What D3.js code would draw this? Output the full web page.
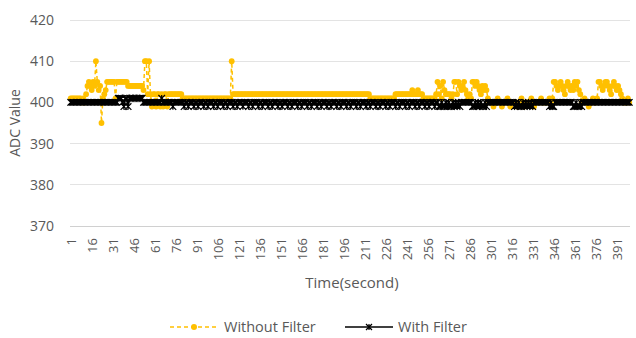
<!DOCTYPE html>
<html>
<head>
<meta charset="utf-8">
<script src="https://cdn.jsdelivr.net/npm/d3@7"></script>
<style>
  body { margin: 0; background: #fff; }
  svg { display: block; }
  text { font-family: "Open Sans", "Liberation Sans", sans-serif; fill: #595959; }
</style>
</head>
<body>
<svg id="chart" width="636" height="338"></svg>
<script>
// Sample index (seconds) for the category axis
const seconds = d3.range(1, 401);

// Raw ADC readings
const withoutFilter = [
  401,401,401,401,401,401,401,401,400,401,400,402,404,405,404,403,405,404,410,405,
  403,404,395,401,402,403,405,405,405,405,405,405,401,405,405,405,405,405,405,405,
  405,404,404,404,404,404,404,404,404,404,404,404,403,410,410,402,410,402,399,402,
  402,399,402,402,399,402,399,402,402,399,402,402,402,402,402,402,402,402,402,402,
  401,401,401,401,401,401,401,401,401,401,401,401,401,401,401,401,401,401,401,401,
  401,401,401,401,401,401,401,401,401,401,401,401,401,401,401,410,402,402,402,402,
  402,402,402,402,402,402,402,402,402,402,402,402,402,402,402,402,402,402,402,402,
  402,402,402,402,402,402,402,402,402,402,402,402,402,402,402,402,402,402,402,402,
  402,402,402,402,402,402,402,402,402,402,402,402,402,402,402,402,402,402,402,402,
  402,402,402,402,402,402,402,402,402,402,402,402,402,402,402,402,402,402,402,402,
  402,402,402,402,402,402,402,402,402,402,402,402,402,402,401,401,401,401,401,401,
  401,401,401,401,401,401,401,401,401,401,401,401,402,402,402,402,402,402,402,402,
  402,402,402,402,403,402,402,402,403,402,402,402,401,401,401,401,401,401,401,401,
  401,402,405,402,404,401,405,403,402,402,402,402,401,402,405,405,402,405,404,403,
  404,405,403,402,401,402,401,405,405,404,405,404,403,402,404,403,404,403,401,400,
  400,400,399,400,400,401,400,400,399,400,400,400,401,400,399,400,400,400,400,399,
  400,400,401,400,399,400,400,400,400,401,400,399,400,400,400,400,401,400,400,400,
  400,400,401,400,401,405,405,404,403,404,405,404,403,402,404,405,404,403,404,403,
  405,404,405,403,402,400,400,401,400,400,399,400,400,401,400,400,401,405,405,404,
  403,404,405,405,404,403,402,404,405,404,403,404,403,402,401,400,400,400,401,400
];

// Filtered ADC readings
const withFilter = [
  400,400,400,400,400,400,400,400,400,400,400,400,400,400,400,400,400,400,400,400,
  400,400,400,400,400,400,400,400,400,400,400,400,400,400,401,401,401,400,399,401,
  401,399,401,401,401,401,401,401,401,401,401,401,400,400,400,400,400,400,400,400,
  400,400,400,400,400,401,400,400,400,400,400,400,400,399,400,400,400,400,400,400,
  400,399,400,400,399,400,400,400,399,400,400,399,400,400,400,399,400,400,399,400,
  400,400,399,400,400,399,400,400,400,399,400,400,399,400,400,400,399,400,400,399,
  400,400,400,399,400,400,400,399,400,400,399,400,400,400,399,400,400,399,400,400,
  400,399,400,400,399,400,400,400,399,400,400,399,400,400,400,399,400,400,399,400,
  400,400,399,400,400,399,400,400,400,399,400,400,399,400,400,400,399,400,400,399,
  400,400,400,399,400,400,399,400,400,400,399,400,400,399,400,400,400,399,400,400,
  399,400,400,400,399,400,400,399,400,400,400,399,400,400,399,400,400,400,399,400,
  400,399,400,400,400,399,400,400,399,400,400,400,399,400,400,399,400,400,400,399,
  400,400,399,400,400,400,399,400,400,399,400,400,400,399,400,400,399,400,400,400,
  399,400,400,399,399,400,399,399,400,399,400,399,399,400,399,400,399,400,399,400,
  400,400,400,400,400,400,400,399,399,400,399,400,399,400,399,399,400,399,400,400,
  400,400,400,400,400,400,400,400,400,400,400,400,400,400,400,400,400,399,400,399,
  400,399,399,400,399,400,399,400,399,400,399,400,400,400,400,400,400,400,400,400,
  400,400,399,400,399,399,400,400,400,400,400,400,400,400,400,400,400,400,400,399,
  399,400,399,399,400,399,400,400,400,400,400,400,400,400,400,400,400,400,400,400,
  400,400,400,400,400,400,400,400,400,400,400,400,400,400,400,400,400,400,400,400
];

const yTicks = [370, 380, 390, 400, 410, 420];
const xTickLabels = d3.range(1, 401, 15);
const seriesNames = ["Without Filter", "With Filter"];

const yellow = "#FFC000";
const black = "#000000";

const svg = d3.select("#chart");

const x = d3.scaleBand().domain(seconds).range([70, 630]);
const y = d3.scaleLinear().domain([370, 420]).range([226, 20]);
const cx = t => x(t) + x.bandwidth() / 2;

// Horizontal gridlines (the lowest one doubles as the category axis)
svg.append("g")
  .selectAll("line")
  .data(yTicks)
  .join("line")
  .attr("x1", 70).attr("x2", 630)
  .attr("y1", d => y(d)).attr("y2", d => y(d))
  .attr("stroke", d => d === 370 ? "#d0d0d0" : "#e3e3e3")
  .attr("stroke-width", 1)
  .attr("shape-rendering", "crispEdges");

// Value axis labels
svg.append("g")
  .selectAll("text")
  .data(yTicks)
  .join("text")
  .attr("x", 54)
  .attr("y", d => y(d))
  .attr("dy", "0.35em")
  .attr("text-anchor", "end")
  .attr("font-size", 14)
  .text(d => d);

// Category axis labels, rotated
svg.append("g")
  .selectAll("text")
  .data(xTickLabels)
  .join("text")
  .attr("transform", d => `translate(${cx(d) + 1},238) rotate(-90)`)
  .attr("dy", "0.35em")
  .attr("text-anchor", "end")
  .attr("font-size", 13)
  .text(d => d);

// Axis titles
svg.append("text")
  .attr("transform", `translate(15,${(y(370) + y(420)) / 2}) rotate(-90)`)
  .attr("text-anchor", "middle")
  .attr("dy", "0.35em")
  .attr("font-size", 14)
  .text("ADC Value");

svg.append("text")
  .attr("x", 352)
  .attr("y", 283)
  .attr("dy", "0.35em")
  .attr("text-anchor", "middle")
  .attr("font-size", 15)
  .text("Time(second)");

const starPath = (px, py, r) =>
  `M${px - r},${py - r}L${px + r},${py + r}M${px - r},${py + r}L${px + r},${py - r}M${px},${py - r}L${px},${py + r}`;

// Unfiltered series: dashed line with round markers
const rawData = seconds.map((t, i) => ({ t, v: withoutFilter[i] }));
const line = d3.line().x(d => cx(d.t)).y(d => y(d.v));

svg.append("path")
  .datum(rawData)
  .attr("d", line)
  .attr("fill", "none")
  .attr("stroke", yellow)
  .attr("stroke-width", 1.5)
  .attr("stroke-dasharray", "4,3");

svg.append("g")
  .selectAll("circle")
  .data(rawData)
  .join("circle")
  .attr("cx", d => cx(d.t))
  .attr("cy", d => y(d.v))
  .attr("r", 2.9)
  .attr("fill", yellow);

// Filtered series: solid line with star markers
const filtData = seconds.map((t, i) => ({ t, v: withFilter[i] }));

svg.append("path")
  .datum(filtData)
  .attr("d", line)
  .attr("fill", "none")
  .attr("stroke", black)
  .attr("stroke-width", 1.8);

svg.append("path")
  .attr("d", filtData.map(d => starPath(cx(d.t), y(d.v), 3.3)).join(""))
  .attr("fill", "none")
  .attr("stroke", black)
  .attr("stroke-width", 1.2);

// Legend
const legend = svg.append("g").attr("transform", "translate(0,327)");
const lg1 = legend.append("g").attr("transform", "translate(170,0)");
lg1.append("line").attr("x1", 0).attr("x2", 48).attr("y1", 0).attr("y2", 0)
  .attr("stroke", yellow).attr("stroke-width", 1.5).attr("stroke-dasharray", "4,3");
lg1.append("circle").attr("cx", 24).attr("cy", 0).attr("r", 3).attr("fill", yellow);
lg1.append("text").attr("x", 54).attr("dy", "0.35em").attr("font-size", 14.5).text(seriesNames[0]);

const lg2 = legend.append("g").attr("transform", "translate(345,0)");
lg2.append("line").attr("x1", 0).attr("x2", 48).attr("y1", 0).attr("y2", 0)
  .attr("stroke", black).attr("stroke-width", 1.5);
lg2.append("path").attr("d", starPath(24, 0, 3)).attr("stroke", black).attr("stroke-width", 1.2);
lg2.append("text").attr("x", 53).attr("dy", "0.35em").attr("font-size", 14.5).text(seriesNames[1]);
</script>
</body>
</html>
